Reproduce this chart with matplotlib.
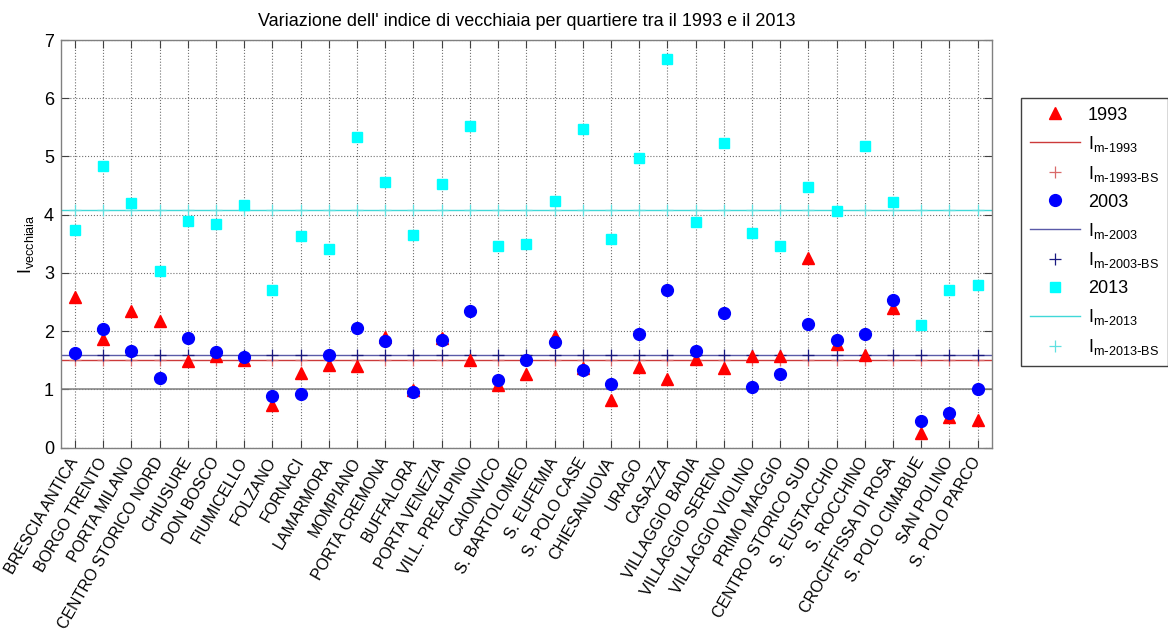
import matplotlib
matplotlib.use('Agg')
import matplotlib.pyplot as plt
import numpy as np

# font simile ad Arial
plt.rcParams['font.family'] = ['Liberation Sans', 'DejaVu Sans']
plt.rcParams['mathtext.default'] = 'regular'

# quartieri di Brescia
quartieri = [
    'BRESCIA ANTICA', 'BORGO TRENTO', 'PORTA MILANO', 'CENTRO STORICO NORD',
    'CHIUSURE', 'DON BOSCO', 'FIUMICELLO', 'FOLZANO', 'FORNACI', 'LAMARMORA',
    'MOMPIANO', 'PORTA CREMONA', 'BUFFALORA', 'PORTA VENEZIA', 'VILL. PREALPINO',
    'CAIONVICO', 'S. BARTOLOMEO', 'S. EUFEMIA', 'S. POLO CASE', 'CHIESANUOVA',
    'URAGO', 'CASAZZA', 'VILLAGGIO BADIA', 'VILLAGGIO SERENO', 'VILLAGGIO VIOLINO',
    'PRIMO MAGGIO', 'CENTRO STORICO SUD', 'S. EUSTACCHIO', 'S. ROCCHINO',
    'CROCIFFISSA DI ROSA', 'S. POLO CIMABUE', 'SAN POLINO', 'S. POLO PARCO',
]

# indice di vecchiaia
iv_1993 = [2.58, 1.86, 2.35, 2.18, 1.49, 1.58, 1.51, 0.73, 1.28, 1.42,
           1.41, 1.90, 0.99, 1.88, 1.51, 1.08, 1.27, 1.92, 1.36, 0.82,
           1.39, 1.18, 1.52, 1.37, 1.57, 1.57, 3.26, 1.78, 1.59, 2.40,
           0.25, 0.53, 0.48]
iv_2003 = [1.63, 2.04, 1.66, 1.20, 1.89, 1.64, 1.55, 0.88, 0.92, 1.59,
           2.06, 1.84, 0.95, 1.85, 2.35, 1.17, 1.50, 1.81, 1.33, 1.10,
           1.95, 2.71, 1.66, 2.31, 1.04, 1.26, 2.12, 1.85, 1.95, 2.54,
           0.46, 0.60, 1.00]
iv_2013 = [3.73, 4.84, 4.20, 3.04, 3.90, 3.84, 4.16, 2.70, 3.63, 3.41,
           5.34, 4.56, 3.65, 4.52, 5.52, 3.47, 3.49, 4.24, 5.48, 3.59,
           4.98, 6.68, 3.88, 5.23, 3.68, 3.46, 4.48, 4.06, 5.18, 4.21,
           2.10, 2.70, 2.79]

# medie (linee) e medie Brescia (crocette)
media = {'1993': 1.51, '2003': 1.59, '2013': 4.08}
media_bs = {'1993': 1.51, '2003': 1.59, '2013': 4.08}
soglia = 1.0

x = np.arange(1, len(quartieri) + 1)

fig = plt.figure(figsize=(11.68, 6.39), dpi=100)
ax = fig.add_axes([0.0522, 0.2994, 0.7968, 0.638])

ax.axhline(soglia, color='#808080', lw=1.1, zorder=1)

h1, = ax.plot(x, iv_1993, '^', color='#ff0000', ms=9, mec='#ff0000', zorder=4, label='1993')
l1 = ax.axhline(media['1993'], color='#cc3a3a', lw=1.0, zorder=2, label=r'$I_{m\text{-}1993}$')
p1, = ax.plot(x, [media_bs['1993']] * len(x), '+', color='#d96a6a', ms=8, mew=0.9, zorder=3,
              label=r'$I_{m\text{-}1993\text{-}BS}$')
h2, = ax.plot(x, iv_2003, 'o', color='#0000ff', ms=8.5, zorder=5, label='2003')
l2 = ax.axhline(media['2003'], color='#5a5aa8', lw=1.0, zorder=2, label=r'$I_{m\text{-}2003}$')
p2, = ax.plot(x, [media_bs['2003']] * len(x), '+', color='#1a1a80', ms=8, mew=0.9, zorder=3,
              label=r'$I_{m\text{-}2003\text{-}BS}$')
h3, = ax.plot(x, iv_2013, 's', color='#00ffff', ms=7, zorder=4, label='2013')
l3 = ax.axhline(media['2013'], color='#40d8d8', lw=1.0, zorder=2, label=r'$I_{m\text{-}2013}$')
p3, = ax.plot(x, [media_bs['2013']] * len(x), '+', color='#60e0e0', ms=8, mew=0.9, zorder=3,
              label=r'$I_{m\text{-}2013\text{-}BS}$')

ax.set_xlim(0.5, len(quartieri) + 0.5)
ax.set_ylim(0, 7)
ax.set_xticks(x)
ax.set_xticklabels(quartieri, rotation=60, ha='right', va='center', rotation_mode='anchor',
                   fontsize=11.5)
ax.set_yticks(range(0, 8))
ax.tick_params(axis='y', labelsize=13)
ax.tick_params(direction='in', length=6, width=0.8, color='#404040', top=True, right=True,
               pad=5)
ax.tick_params(axis='x', pad=8)
for s in ax.spines.values():
    s.set_color('#808080')
    s.set_linewidth(1.0)

ax.grid(True, linestyle=':', color='#707070', linewidth=0.8)
ax.set_axisbelow(True)

ax.set_ylabel(r'$I_{vecchiaia}$', fontsize=13, labelpad=6)
ax.set_title("Variazione dell' indice di vecchiaia per quartiere tra il 1993 e il 2013",
             fontsize=13, pad=10)

fig.legend(handles=[h1, l1, p1, h2, l2, p2, h3, l3, p3], loc='upper left',
           bbox_to_anchor=(0.874, 0.847), fontsize=13, numpoints=1, handlelength=2.8,
           handletextpad=0.4, labelspacing=0.55, fancybox=False, edgecolor='#404040',
           framealpha=1, borderpad=0.5, borderaxespad=0)

fig.savefig('out.png', dpi=100)
